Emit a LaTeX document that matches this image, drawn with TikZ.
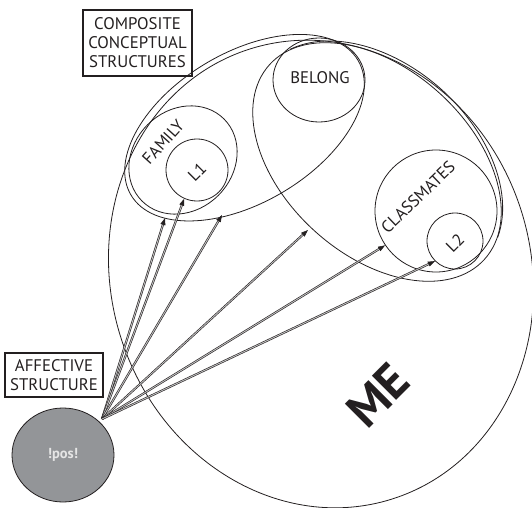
\documentclass[tikz,border=0pt]{standalone}
\usepackage{fontspec}
\setmainfont{PT Sans}
\usetikzlibrary{shapes.geometric,arrows.meta}
\definecolor{ink}{HTML}{231F20}
\definecolor{posgray}{HTML}{939598}
\begin{document}
\begin{tikzpicture}[x=1pt,y=1pt,
  shp/.style={draw=ink, line width=0.8pt, inner sep=0pt, ellipse},
  edge/.style={draw=ink, line width=0.8pt},
  lbl/.style={font=\fontsize{16.8}{19}\selectfont, text=ink, inner sep=0pt},
  box/.style={draw=ink, line width=1.4pt, align=center, font=\fontsize{16.8}{19}\selectfont, text=ink, inner sep=0pt},
  arr/.style={draw=ink, line width=0.6pt, double=white!75!black, double distance=0.9pt, -{Triangle[length=7pt,width=5pt]}}]
\useasboundingbox (0,0) rectangle (532,507);
% big regions
\node[shp, minimum width=420pt, minimum height=472pt, rotate=17.5] (ME) at (321,233) {};
\node[shp, minimum width=264pt, minimum height=150pt, rotate=30.7] (grpA) at (244.5,379.3) {};
\node[shp, minimum width=290pt, minimum height=186pt, rotate=-42.2] (grpB) at (377,345) {};
\draw[edge, rotate around={-42.2:(grpB.center)}] (517.06,370.11) arc[start angle=15, end angle=165, x radius=145, y radius=97];
% circles
\node[shp, minimum width=116pt, minimum height=100pt, rotate=45] (FAM) at (183,347) {};
\node[shp, circle, minimum size=62pt] (L1) at (197,337) {};
\node[shp, minimum width=92pt, minimum height=84pt] (BEL) at (319,427) {};
\node[shp, circle, minimum size=122pt] (CLS) at (436,296) {};
\node[shp, circle, minimum size=56pt] (L2) at (455,266) {};
% labels
\node[lbl] (bellbl) at (320,429) {BELONG};
\node[lbl, rotate=48] (famlbl) at (163,365) {FAMILY};
\node[lbl, rotate=45] (l1lbl) at (197,335) {L1};
\node[lbl, rotate=44] (clslbl) at (418,310) {CLASSMATES};
\node[lbl, rotate=45] (l2lbl) at (455,264) {L2};
\node[font=\fontsize{49}{49}\selectfont\bfseries, text=ink, rotate=45, inner sep=0pt] (melbl) at (378,112) {ME};
% boxes
\node[box, minimum width=109pt, minimum height=66pt] (box1) at (137.5,464) {COMPOSITE\\CONCEPTUAL\\STRUCTURES};
\node[box, minimum width=98pt, minimum height=44pt] (box2) at (54,132) {AFFECTIVE\\STRUCTURE};
% affective node
\node[ellipse, draw=ink, line width=0.8pt, fill=posgray, minimum width=102pt, minimum height=94pt, inner sep=0pt,
      font=\fontsize{14.5}{14.5}\selectfont\bfseries, text=white!90!black] (pos) at (63,52) {!pos!};
% arrows
\coordinate (src) at (102,88);
\coordinate (t1) at (165,289);
\coordinate (t3) at (222,292);
\coordinate (t4) at (308,277);
\draw[arr] (src) -- (t1);
\draw[arr] (src) -- (L1.246);
\draw[arr] (src) -- (t3);
\draw[arr] (src) -- (t4);
\draw[arr] (src) -- (CLS.214);
\draw[arr] (src) -- (L2.225);
\end{tikzpicture}
\end{document}
